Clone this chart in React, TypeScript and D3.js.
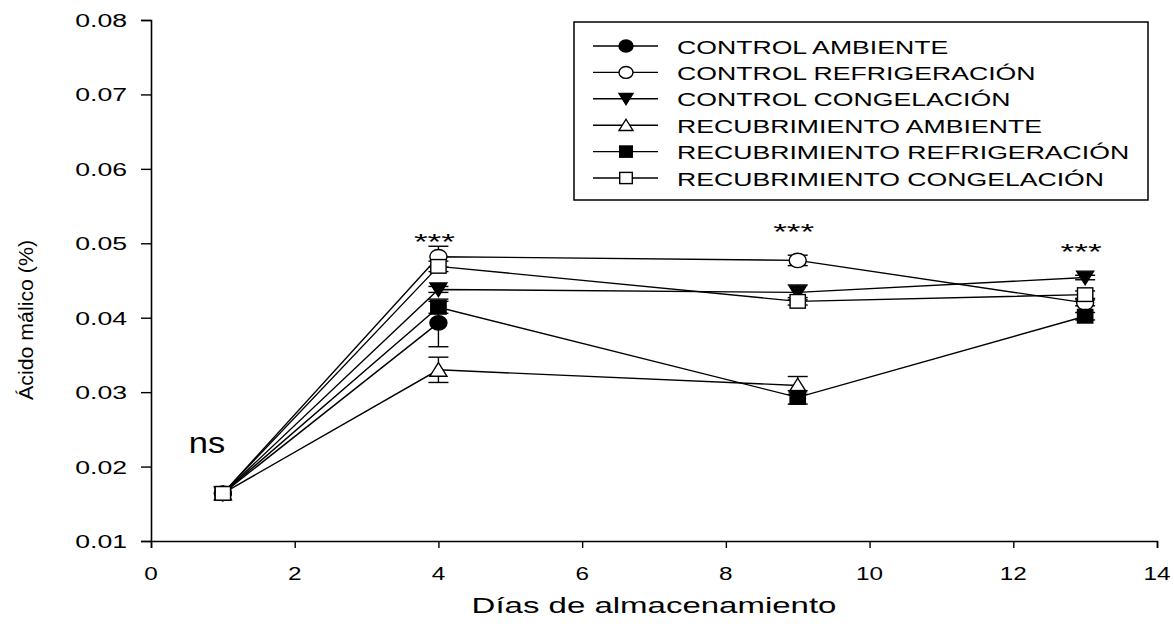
import React, { useEffect, useRef } from "react";
import * as d3 from "d3";

const seriesNames = [
  "CONTROL AMBIENTE",
  "CONTROL REFRIGERACIÓN",
  "CONTROL CONGELACIÓN",
  "RECUBRIMIENTO AMBIENTE",
  "RECUBRIMIENTO REFRIGERACIÓN",
  "RECUBRIMIENTO CONGELACIÓN",
];
const markerTypes = ["circleFilled", "circleOpen", "triDownFilled", "triUpOpen", "squareFilled", "squareOpen"];

const days1 = [1, 4];
const days2 = [1, 4, 9];
const days3 = [1, 4, 9, 13];

const controlAmbiente = [0.0164, 0.0393];
const controlAmbienteErr = [0.0002, 0.0032];
const controlRefrig = [0.0164, 0.0482, 0.0477, 0.042];
const controlRefrigErr = [0.0002, 0.0014, 0.0007, 0.0004];
const controlCongel = [0.0164, 0.0438, 0.0434, 0.0454];
const controlCongelErr = [0.0002, 0.0004, 0.001, 0.0003];
const recAmbiente = [0.0164, 0.033, 0.0309];
const recAmbienteErr = [0.0002, 0.0017, 0.0012];
const recRefrig = [0.0164, 0.0414, 0.0293, 0.0402];
const recRefrigErr = [0.0002, 0.0008, 0.0009, 0.0005];
const recCongel = [0.0164, 0.0469, 0.0422, 0.0431];
const recCongelErr = [0.0002, 0.0007, 0.0005, 0.0005];

const xTicks = [0, 2, 4, 6, 8, 10, 12, 14];
const yTicks = [0.01, 0.02, 0.03, 0.04, 0.05, 0.06, 0.07, 0.08];

const starDays = [4, 9, 13];
const starLevels = [0.051, 0.0523, 0.0496];

export default function App() {
  const ref = useRef<SVGSVGElement>(null);
  useEffect(() => {
    const svg = d3.select(ref.current);
    svg.selectAll("*").remove();
    const font = "Arial, 'Liberation Sans', sans-serif";
    const x = d3.scaleLinear().domain([0, 14]).range([151, 1157]);
    const y = d3.scaleLinear().domain([0.01, 0.08]).range([541, 20]);

    const sText = (g: any, tx: number, ty: number, str: string, size: number, sx: number, anchor = "start") =>
      g.append("text")
        .attr("transform", `translate(${tx},${ty}) scale(${sx},1)`)
        .attr("text-anchor", anchor)
        .attr("font-family", font)
        .attr("font-size", size)
        .attr("fill", "#000")
        .text(str);

    const series = [
      { days: days1, v: controlAmbiente, e: controlAmbienteErr },
      { days: days3, v: controlRefrig, e: controlRefrigErr },
      { days: days3, v: controlCongel, e: controlCongelErr },
      { days: days2, v: recAmbiente, e: recAmbienteErr },
      { days: days3, v: recRefrig, e: recRefrigErr },
      { days: days3, v: recCongel, e: recCongelErr },
    ];

    // axes
    const xAxis = d3.axisBottom(x).tickValues(xTicks).tickSizeOuter(0).tickSize(7).tickFormat(() => "");
    const yAxis = d3.axisLeft(y).tickValues(yTicks).tickSizeOuter(0).tickSize(10).tickFormat(() => "");
    const gx = svg.append("g").attr("transform", "translate(0,541)").call(xAxis);
    const gy = svg.append("g").attr("transform", "translate(151,0)").call(yAxis);
    [gx, gy].forEach((g) => {
      g.selectAll("path").attr("stroke", "#000").attr("stroke-width", 1.6);
      g.selectAll("line").attr("stroke", "#000").attr("stroke-width", 1.4);
    });
    xTicks.forEach((t) => sText(svg, x(t), 580, String(t), 18, 1.35, "middle"));
    yTicks.forEach((t) => sText(svg, 127, y(t) + 7, d3.format(".2f")(t), 18, 1.48, "end"));

    const line = d3.line<[number, number]>().x((d) => x(d[0])).y((d) => y(d[1]));
    const gLines = svg.append("g");
    series.forEach((s) => {
      gLines.append("path")
        .attr("d", line(s.days.map((d, i) => [d, s.v[i]] as [number, number]))!)
        .attr("fill", "none").attr("stroke", "#000").attr("stroke-width", 1.4);
    });

    const gErr = svg.append("g").attr("stroke", "#000").attr("stroke-width", 1.4);
    series.forEach((s) => {
      s.days.forEach((d, i) => {
        if (d === 1) return;
        const cx = x(d);
        const y0 = y(s.v[i] - s.e[i]);
        const y1 = y(s.v[i] + s.e[i]);
        gErr.append("line").attr("x1", cx).attr("x2", cx).attr("y1", y0).attr("y2", y1);
        gErr.append("line").attr("x1", cx - 10).attr("x2", cx + 10).attr("y1", y0).attr("y2", y0);
        gErr.append("line").attr("x1", cx - 10).attr("x2", cx + 10).attr("y1", y1).attr("y2", y1);
      });
    });

    const drawMarker = (g: any, type: string, cx: number, cy: number, r: number) => {
      const filled = type.includes("Filled");
      const fill = filled ? "#000" : "#fff";
      let el;
      if (type.startsWith("circle")) {
        el = g.append("ellipse").attr("cx", cx).attr("cy", cy).attr("rx", r).attr("ry", r * 0.85);
      } else if (type.startsWith("square")) {
        el = g.append("rect").attr("x", cx - r * 0.9).attr("y", cy - r * 0.8).attr("width", r * 1.8).attr("height", r * 1.6);
      } else if (type.startsWith("triDown")) {
        el = g.append("path").attr("d", `M${cx - r},${cy - r * 0.75}L${cx + r},${cy - r * 0.75}L${cx},${cy + r * 0.85}Z`);
      } else {
        el = g.append("path").attr("d", `M${cx - r},${cy + r * 0.75}L${cx + r},${cy + r * 0.75}L${cx},${cy - r * 0.85}Z`);
      }
      el.attr("fill", fill).attr("stroke", "#000").attr("stroke-width", 1.4);
    };

    const gMk = svg.append("g");
    series.forEach((s, si) => {
      s.days.forEach((d, i) => drawMarker(gMk, markerTypes[si], x(d), y(s.v[i]), 8.5));
    });

    // significance
    sText(svg, 207, 453, "ns", 30, 1.15, "middle");
    starDays.forEach((d, i) => {
      sText(svg, x(d) - 4, y(starLevels[i]) + 13, "***", 22, 1.6, "middle");
    });

    // legend
    const lg = svg.append("g");
    lg.append("rect").attr("x", 574).attr("y", 22).attr("width", 574).attr("height", 178)
      .attr("fill", "#fff").attr("stroke", "#000").attr("stroke-width", 1.5);
    seriesNames.forEach((n, i) => {
      const ly = 46 + i * 26.4;
      lg.append("line").attr("x1", 593).attr("x2", 658).attr("y1", ly).attr("y2", ly).attr("stroke", "#000").attr("stroke-width", 1.4);
      drawMarker(lg, markerTypes[i], 626, ly, 7);
      sText(lg, 677, ly + 7.5, n, 18.5, 1.44);
    });

    // axis titles
    sText(svg, 654, 613, "Días de almacenamiento", 22, 1.5, "middle");
    svg.append("text").attr("transform", "translate(33,320) rotate(-90)").attr("text-anchor", "middle")
      .attr("font-family", font).attr("font-size", 21)
      .attr("textLength", 160).attr("lengthAdjust", "spacingAndGlyphs").text("Ácido málico (%)");
  }, []);
  return (
    <svg ref={ref} width={1174} height={628} style={{ position: "absolute", left: 0, top: 0, background: "#fff" }} />
  );
}
